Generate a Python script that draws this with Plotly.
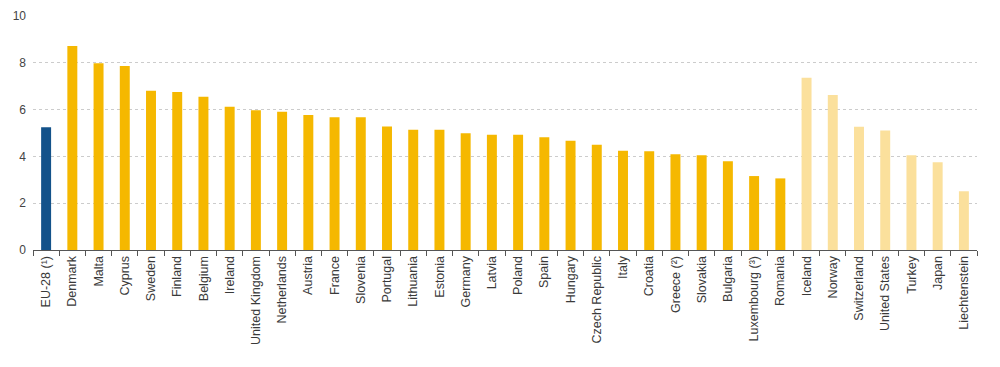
import plotly.graph_objects as go

categories = ["EU-28 (¹)", "Denmark", "Malta", "Cyprus", "Sweden", "Finland", "Belgium", "Ireland",
              "United Kingdom", "Netherlands", "Austria", "France", "Slovenia", "Portugal", "Lithuania",
              "Estonia", "Germany", "Latvia", "Poland", "Spain", "Hungary", "Czech Republic", "Italy",
              "Croatia", "Greece (²)", "Slovakia", "Bulgaria", "Luxembourg (³)", "Romania",
              "Iceland", "Norway", "Switzerland", "United States", "Turkey", "Japan", "Liechtenstein"]
values = [5.25, 8.72, 7.98, 7.86, 6.81, 6.75, 6.55, 6.12, 5.97, 5.91, 5.77, 5.67, 5.67, 5.28, 5.14,
          5.14, 4.99, 4.93, 4.93, 4.82, 4.67, 4.50, 4.24, 4.22, 4.09, 4.05, 3.79, 3.16, 3.06,
          7.36, 6.62, 5.27, 5.11, 4.05, 3.75, 2.51]
groups = ["eu"] + ["member"] * 28 + ["other"] * 7
group_colors = {"eu": "#13528a", "member": "#f5b800", "other": "#fbe09c"}

fig = go.Figure(go.Bar(
    x=categories, y=values,
    marker=dict(color=[group_colors[g] for g in groups], line=dict(width=0)),
    hoverinfo="x+y",
))

fig.update_layout(
    width=992, height=359,
    margin=dict(l=25, r=23, t=8, b=117),
    plot_bgcolor="white", paper_bgcolor="white",
    bargap=0.62,
    showlegend=False,
    font=dict(family="Liberation Sans, Arial, sans-serif", size=12.5, color="#3a3a3a"),
)
fig.update_xaxes(
    type="category", tickangle=-90, ticks="outside", tickson="boundaries", ticklen=5,
    tickcolor="#555555", showline=True, linecolor="#555555", linewidth=1,
    showgrid=False, tickfont=dict(size=12.5, color="#3a3a3a"), automargin=False,
)
fig.update_yaxes(
    range=[0, 10], dtick=2, showgrid=True, gridcolor="#cccccc", griddash="dot", gridwidth=1,
    zeroline=False, showline=False, ticks="", tickfont=dict(size=12, color="#444444"),
    automargin=False, ticklabelstandoff=6,
)

fig.write_html("out.html")
